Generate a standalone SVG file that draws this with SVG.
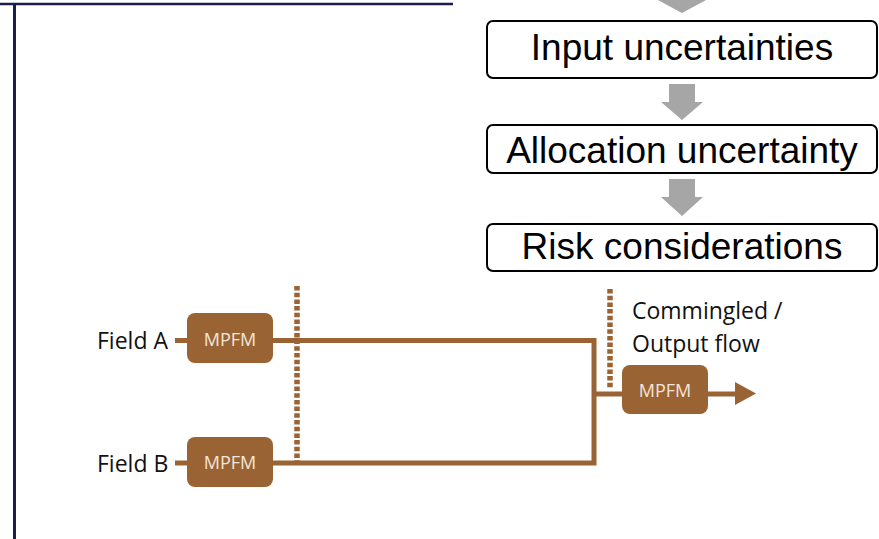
<svg xmlns="http://www.w3.org/2000/svg" width="879" height="539" viewBox="0 0 879 539">
  <style>
    .frame { stroke: #1b1d4e; fill: none; }
    .step rect { fill: #ffffff; stroke: #000000; stroke-width: 2; }
    .step text { font-family: "Liberation Sans", Arial, sans-serif; font-size: 37px; fill: #000000; text-anchor: middle; }
    .down { fill: #a6a6a6; }
    .pipe { stroke: #9a6333; stroke-width: 5; fill: none; }
    .dots { stroke: #9a6333; stroke-width: 5.5; stroke-dasharray: 4.5 2.2; fill: none; }
    .meter rect { fill: #9a6333; }
    .meter text { font-family: "Open Sans", "Noto Sans", sans-serif; font-size: 18px; fill: #f3e6d8; text-anchor: middle; }
    .lbl { font-family: "Open Sans", "Noto Sans", sans-serif; font-size: 23px; fill: #111111; }
  </style>

  <!-- slide frame lines -->
  <g id="frame">
    <line class="frame" x1="0" y1="4" x2="453" y2="4" stroke-width="2.5"/>
    <line class="frame" x1="14.5" y1="4" x2="14.5" y2="539" stroke-width="3"/>
  </g>

  <!-- gray flow arrows between the steps -->
  <g id="connectors">
    <polygon class="down" points="656,-1 708,-1 682,13"/>
    <polygon class="down" points="669,84 695,84 695,102 703,102 682,120 661,102 669,102"/>
    <polygon class="down" points="669,179 695,179 695,197 703,197 682,216 661,197 669,197"/>
  </g>

  <g id="step-input" class="step">
    <rect x="487" y="21" width="390" height="57" rx="6"/>
    <text x="682" y="60">Input uncertainties</text>
  </g>
  <g id="step-allocation" class="step">
    <rect x="487" y="125" width="390" height="48" rx="6"/>
    <text x="682" y="163">Allocation uncertainty</text>
  </g>
  <g id="step-risk" class="step">
    <rect x="487" y="224" width="390" height="47" rx="6"/>
    <text x="682" y="259">Risk considerations</text>
  </g>

  <!-- flow lines of the allocation layout -->
  <g id="pipes">
    <line class="pipe" x1="175" y1="340.5" x2="190" y2="340.5"/>
    <line class="pipe" x1="175" y1="463" x2="190" y2="463"/>
    <polyline class="pipe" points="270,340.5 594,340.5 594,463 270,463"/>
    <line class="pipe" x1="594" y1="394" x2="625" y2="394"/>
    <line class="pipe" x1="705" y1="394" x2="738" y2="394"/>
    <polygon points="735,382 756,393.5 735,405" fill="#9a6333"/>
    <line class="dots" x1="297" y1="286" x2="297" y2="464"/>
    <line class="dots" x1="610" y1="289" x2="610" y2="388"/>
  </g>

  <g id="field-a">
    <text class="lbl" x="97" y="348.5">Field A</text>
  </g>
  <g id="field-b">
    <text class="lbl" x="97" y="471.5">Field B</text>
  </g>
  <g id="mpfm-a" class="meter">
    <rect x="187" y="313" width="86" height="50" rx="8"/>
    <text x="230" y="346">MPFM</text>
  </g>
  <g id="mpfm-b" class="meter">
    <rect x="187" y="437" width="86" height="50" rx="8"/>
    <text x="230" y="469">MPFM</text>
  </g>
  <g id="mpfm-out" class="meter">
    <rect x="622" y="365" width="86" height="49" rx="8"/>
    <text x="665" y="397">MPFM</text>
  </g>
  <g id="output-label">
    <text class="lbl" x="632" y="319">Commingled /</text>
    <text class="lbl" x="632" y="352">Output flow</text>
  </g>
</svg>
